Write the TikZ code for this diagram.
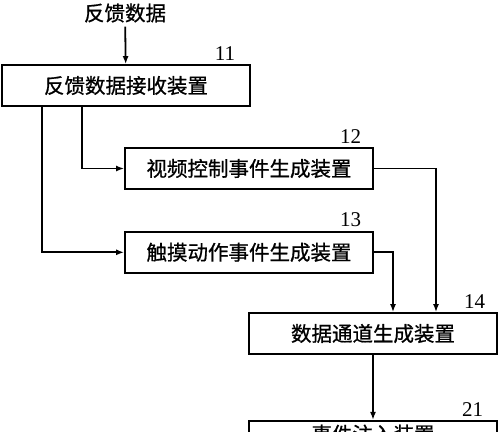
\documentclass[tikz,border=0pt]{standalone}
\usepackage{fontspec}
\setmainfont{Liberation Serif}
\newfontfamily\cjk[FakeBold=0.8]{Noto Sans CJK SC}
\usetikzlibrary{positioning, arrows.meta}
\tikzset{
  unit/.style={draw, minimum width=248pt, minimum height=41pt, inner sep=0pt,
    font=\cjk\fontsize{20.5}{24}\selectfont},
  tag/.style={inner sep=0pt, font=\fontsize{21}{24}\selectfont},
  flow/.style={-{Latex[length=8pt, width=6pt]}},
}

\begin{document}
\begin{tikzpicture}[x=1pt, y=-1pt, line width=1.8pt]
            \useasboundingbox (0,0) rectangle (500,431);
            \clip (0,0) rectangle (500,431);
            \node [font=\cjk\fontsize{20.5}{24}\selectfont] (fb) at (125,13) {反馈数据};
            \node [unit] (recv) at (126,85.5) {反馈数据接收装置};
            \node [unit] (video) at (249,168.5) {视频控制事件生成装置};
            \node [unit, below=41pt of video] (touch) {触摸动作事件生成装置};
            \node [unit] (chan) at (373,333.5) {数据通道生成装置};
            \node [unit, below=65pt of chan, text depth=16pt] (inject) {事件注入装置};
            \node [tag, above left=3pt and 15pt of recv.north east] (n11) {11};
            \node [tag, above left=3pt and 12pt of video.north east] (n12) {12};
            \node [tag, above left=3pt and 12pt of touch.north east] (n13) {13};
            \node [tag, above left=3pt and 12pt of chan.north east] (n14) {14};
            \node [tag, above left=3pt and 14pt of inject.north east] (n21) {21};

            \draw[flow] (fb) -- (recv);
            \draw[flow] ([xshift=81pt]recv.south west) |- (video);
            \draw[flow] ([xshift=41pt]recv.south west) |- (touch);
            \draw[flow] (video) -| ([xshift=63pt]chan.north);
            \draw[flow] (touch) -| ([xshift=20pt]chan.north);
            \draw[flow] (chan) -- (inject);
        \end{tikzpicture}
\end{document}
